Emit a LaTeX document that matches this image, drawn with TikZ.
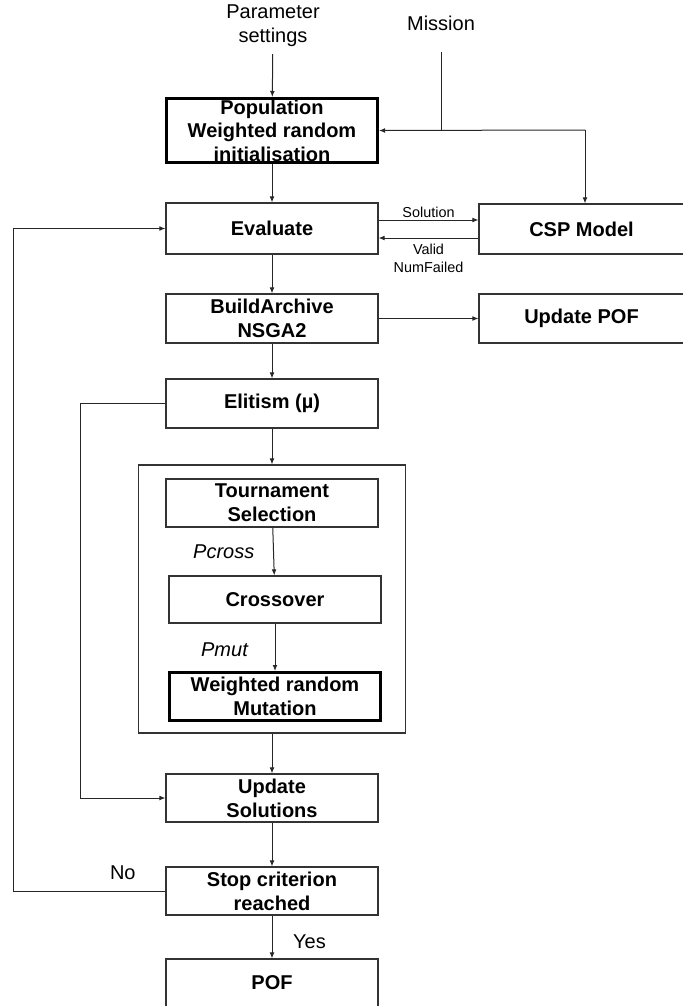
\documentclass[tikz,border=0pt]{standalone}
\usepackage{fontspec}
\setmainfont{Liberation Sans}
\usetikzlibrary{arrows.meta}

\begin{document}
\begin{tikzpicture}[x=0.5pt,y=-0.5pt,
  pijl/.style={draw=black!85, line width=0.5pt, -{Latex[length=3pt,width=2.4pt]}},
  lijn/.style={draw=black!85, line width=0.5pt},
  blok/.style={draw=black!80, line width=0.6pt, inner sep=0pt, minimum width=106pt,
    minimum height=24.5pt, align=center, font=\fontsize{10}{12}\selectfont\bfseries},
  dikblok/.style={blok, draw=black, line width=1.5pt, minimum width=105.5pt},
  tekst/.style={align=center, font=\fontsize{10}{12}\selectfont},
  klein/.style={align=center, inner sep=1pt, font=\fontsize{7.2}{8.6}\selectfont}]
\useasboundingbox (0,0) rectangle (683,1006);

% inputs
\node[tekst] (param) at (273,26) {Parameter\\settings};
\node[tekst] (mission) at (441,23) {Mission};
\coordinate (mtop) at (441,52);
\coordinate (mj) at (441,130);
\coordinate (mc) at (585,130);

% main column
\node[dikblok, minimum height=32pt, font=\fontsize{10}{11.75}\selectfont\bfseries] (pop) at (272,130.5)
  {Population\\Weighted random\\initialisation};
\node[blok, minimum height=25.5pt] (eval) at (272,228.5) {Evaluate};
\node[blok, minimum width=102.5pt, minimum height=25pt] (csp) at (581.5,229) {CSP Model};
\node[blok] (build) at (272,318.5) {BuildArchive\\NSGA2};
\node[blok, minimum width=102.5pt] (upof) at (581.5,318.5) {Update POF};
\node[blok] (elit) at (272,403.5) {Elitism (µ)};

% operators
\node[draw=black!80, line width=0.6pt, minimum width=133.75pt, minimum height=134pt] (groep) at (272,599) {};
\node[blok, minimum height=24pt] (tour) at (272,503) {Tournament\\Selection};
\node[blok, minimum height=23.5pt] (cross) at (275,599.5) {Crossover};
\node[dikblok, minimum height=24pt] (mut) at (275,696.5) {Weighted random\\Mutation};

\node[blok, minimum height=24pt] (upsol) at (272,798) {Update\\Solutions};
\node[blok, minimum height=24pt] (stop) at (272,891) {Stop criterion\\reached};
\node[blok, minimum height=24pt] (pof) at (272,983) {POF};

% connectors
\draw[pijl] (param) -- (pop);
\draw[lijn] (mtop) -- (mj);
\draw[pijl] (mc) -- (pop.east);
\draw[pijl] (mc) -- (mc |- csp.north);
\draw[pijl] (pop) -- (eval);
\draw[pijl] ([yshift=4.25pt]eval.east) -- node[klein, above]{Solution} ([yshift=4.25pt]eval.east -| csp.west);
\draw[pijl] ([yshift=-4.5pt]csp.west) -- node[klein, below=2pt]{Valid\\NumFailed} ([yshift=-4.5pt]csp.west -| eval.east);
\draw[pijl] (eval) -- (build);
\draw[pijl] (build) -- (upof);
\draw[pijl] (build) -- (elit);
\draw[pijl] (elit) -- (groep);
\draw[pijl] (tour) -- node[tekst, midway, left=6pt, font=\fontsize{10}{12}\selectfont\itshape]{Pcross} (cross);
\draw[pijl] (cross) -- node[tekst, pos=0.55, left=10pt, font=\fontsize{10}{12}\selectfont\itshape]{Pmut} (mut);
\draw[pijl] (groep) -- (upsol);
\draw[pijl] (elit.west) -- ++(-85,0) |- (upsol.west);
\draw[pijl] (upsol) -- (stop);
\draw[pijl] (stop.west) -- node[tekst, pos=0.28, above=2pt]{No} ++(-152,0) |- (eval.west);
\draw[pijl] (stop) -- node[tekst, pos=0.6, right=7pt]{Yes} (pof);
\end{tikzpicture}
\end{document}
